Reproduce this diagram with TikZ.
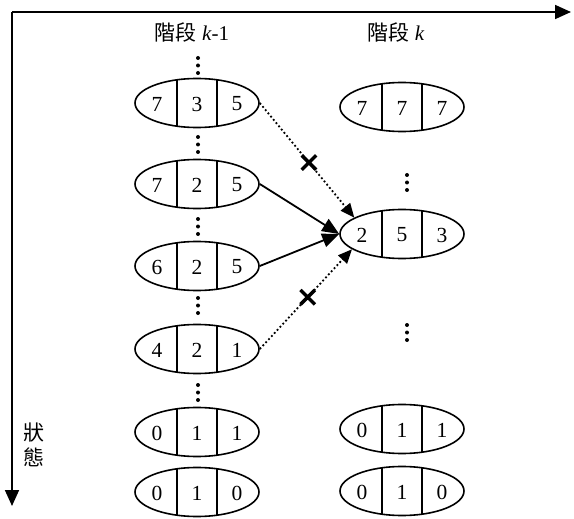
\documentclass[tikz,border=0pt]{standalone}
\usepackage{fontspec}
\setmainfont{Liberation Serif}
\newfontfamily\cjk{Noto Sans CJK TC}
\usetikzlibrary{arrows.meta,shapes.geometric,shapes.misc}
\tikzset{
  cellbox/.style={ellipse, draw, line width=1.6pt, minimum width=124pt, minimum height=49pt, inner sep=0pt,
    path picture={\draw[line width=1.6pt] ([xshift=-20pt]path picture bounding box.south) -- ([xshift=-20pt]path picture bounding box.north);
                  \draw[line width=1.6pt] ([xshift=20pt]path picture bounding box.south) -- ([xshift=20pt]path picture bounding box.north);}},
  digit/.style={font=\fontsize{21.5}{24}\selectfont, inner sep=0pt},
  axis/.style={line width=1.7pt, -{Triangle[length=16pt,width=14pt]}},
  solidarrow/.style={line width=1.8pt, -{Triangle[length=17pt,width=14pt]}},
  dotarrow/.style={line width=1.8pt, dash pattern=on 1.8pt off 2.4pt, -{Triangle[length=14pt,width=12pt]}},
  xmark/.style={cross out, draw, solid, line width=3.4pt, minimum size=11pt, inner sep=0pt},
  lbl/.style={font=\fontsize{21}{24}\selectfont, inner sep=0pt},
  vdot/.style={fill, circle, inner sep=0pt, minimum size=4pt}
}
\newcommand\cellnode[6]{%
  \node[cellbox] (#1) at (#2,#3) {};
  \node[digit] (#1a) at ([xshift=-40pt,yshift=-1pt]#1.center) {#4};
  \node[digit] (#1b) at ([yshift=-1pt]#1.center) {#5};
  \node[digit] (#1c) at ([xshift=40pt,yshift=-1pt]#1.center) {#6};
}
\newcommand\mydots[2]{%
  \node[vdot] at (#1,#2) {};
  \node[vdot] at (#1,#2+7.5) {};
  \node[vdot] at (#1,#2+15) {};
}
\begin{document}
\begin{tikzpicture}[x=1pt,y=-1pt]
\useasboundingbox (0,0) rectangle (574,519);
% axes
\coordinate (o) at (12,12);
\coordinate (xe) at (571,12);
\coordinate (ye) at (12,506);
\draw[axis] (o) -- (xe);
\draw[axis] (o) -- (ye);
\node[lbl] (h1) at (192,32) {{\cjk 階段} \textit{k}-1};
\node[lbl] (h2) at (396,32) {{\cjk 階段} \textit{k}};
\node[lbl, align=center] (st) at (34,445) {{\cjk 狀}\\[1pt]{\cjk 態}};
% left column
\cellnode{l1}{197}{103}{7}{3}{5}
\cellnode{l2}{197}{184}{7}{2}{5}
\cellnode{l3}{197}{266}{6}{2}{5}
\cellnode{l4}{197}{349}{4}{2}{1}
\cellnode{l5}{197}{432}{0}{1}{1}
\cellnode{l6}{197}{492}{0}{1}{0}
% right column
\cellnode{r1}{402}{107}{7}{7}{7}
\cellnode{r2}{402}{234}{2}{5}{3}
\cellnode{r5}{402}{429}{0}{1}{1}
\cellnode{r6}{402}{491}{0}{1}{0}
% vertical dots
\mydots{198}{58}
\mydots{198}{137}
\mydots{198}{219}
\mydots{198}{298}
\mydots{198}{385}
\mydots{407}{175}
\mydots{407}{325}
% connectors
\draw[solidarrow] (l2.east) -- (r2.west);
\draw[solidarrow] (l3.east) -- (r2.west);
\draw[dotarrow] (l1.east) -- node[xmark, pos=0.52] (x1) {} (r2.161);
\draw[dotarrow] (l4.east) -- node[xmark, pos=0.52] (x2) {} (r2.197);
\end{tikzpicture}
\end{document}
